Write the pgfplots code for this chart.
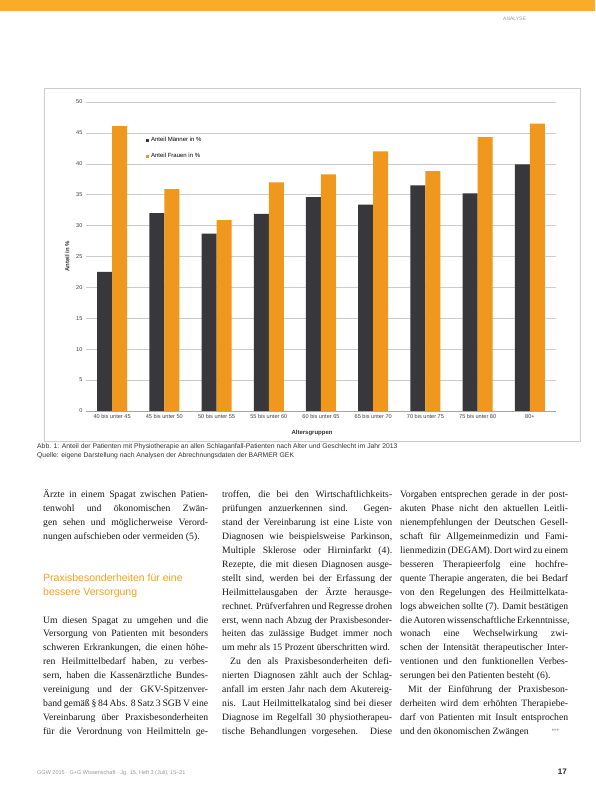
\documentclass[border=0pt]{standalone}
\usepackage{pgfplots}
\pgfplotsset{compat=1.18}
\usepackage{fontspec}
\setmainfont{Liberation Serif}
\newfontfamily\arial{Liberation Sans}
\newfontfamily\dejavu{DejaVu Sans}
\definecolor{male}{RGB}{55,55,60}
\definecolor{female}{RGB}{240,152,30}
\definecolor{band}{RGB}{250,172,40}
\definecolor{head}{RGB}{240,160,45}
\newcommand\bodyfont{\fontsize{9.7}{12}\selectfont}
% justified line: x, line index, width, text
\newcommand\jl[4]{\node[anchor=base west,inner sep=0pt,font=\bodyfont,text=black!90] at (#1,{498+13.9*#2}) {\makebox[#3pt][s]{#4}};}
\newcommand\lastl[3]{\node[anchor=base west,inner sep=0pt,font=\bodyfont,text=black!90] at (#1,{498+13.9*#2}) {#3};}
\begin{document}
\begin{tikzpicture}
\useasboundingbox (0pt,0pt) rectangle (595pt,785pt);
\fill[white] (0pt,0pt) rectangle (595pt,785pt);

\begin{axis}[
  at={(86pt,374pt)}, anchor=south west,
  scale only axis, width=470pt, height=309pt,
  ybar=0pt, bar width=15pt,
  xmin=-0.5, xmax=8.5, ymin=0, ymax=50,
  xtick={0,...,8},
  xticklabels={40 bis unter 45,45 bis unter 50,50 bis unter 55,55 bis unter 60,60 bis unter 65,65 bis unter 70,70 bis unter 75,75 bis unter 80,80+},
  ytick={0,5,...,50},
  ymajorgrids, grid style={gray!40, line width=0.5pt},
  axis x line*=bottom, axis y line*=left,
  y axis line style={draw=none}, x axis line style={gray!70},
  major tick length=0pt,
  tick label style={font=\arial\fontsize{5.6}{6}\selectfont, text=black!75},
  /pgf/number format/assume math mode=true,
  ylabel={\bfseries Anteil in \%},
  ylabel style={font=\arial\fontsize{6}{7}\selectfont, text=black!80},
  xlabel={\bfseries Altersgruppen},
  xlabel style={font=\arial\fontsize{6}{7}\selectfont, text=black!80, at={(axis description cs:0.481,-0.072)}, anchor=center},
  legend style={at={(axis description cs:0.127,0.892)}, anchor=north west, draw=none, fill=none,
     font=\arial\fontsize{6}{7}\selectfont, row sep=6pt, inner xsep=0pt, inner ysep=0pt},
  legend cell align=left,
  legend image code/.code={\fill[#1] (0pt,-1.6pt) rectangle (3.2pt,1.6pt);},
]
\addplot[fill=male, draw=none] coordinates {(0,22.5) (1,32.0) (2,28.7) (3,31.9) (4,34.6) (5,33.4) (6,36.5) (7,35.2) (8,39.9)};
\addplot[fill=female, draw=none] coordinates {(0,46.1) (1,35.9) (2,30.9) (3,37.0) (4,38.3) (5,42.0) (6,38.8) (7,44.3) (8,46.5)};
\legend{Anteil Männer in \%, Anteil Frauen in \%}
\end{axis}

\begin{scope}[x=1pt,y=-1pt,yshift=785pt]
% top band and header
\fill[band] (0,0) rectangle (595,11);
\node[anchor=base west,inner sep=0pt,font=\arial\fontsize{5}{6}\selectfont,text=gray!80] at (503,21) {ANALYSE};
% chart frame
\draw[gray!40, line width=0.5pt] (44,88) rectangle (580,441);
% caption
\node[anchor=base west,inner sep=0pt,font=\arial\fontsize{6.8}{8}\selectfont,text=black!80] at (37,449) {Abb. 1: Anteil der Patienten mit Physiotherapie an allen Schlaganfall-Patienten nach Alter und Geschlecht im Jahr 2013};
\node[anchor=base west,inner sep=0pt,font=\arial\fontsize{6.8}{8}\selectfont,text=black!80] at (37,458) {Quelle: eigene Darstellung nach Analysen der Abrechnungsdaten der BARMER GEK};

% column 1
\jl{43}{0}{165}{Ärzte in einem Spagat zwischen Patien-}
\jl{43}{1}{165}{tenwohl und ökonomischen Zwän-}
\jl{43}{2}{165}{gen sehen und möglicherweise Verord-}
\lastl{43}{3}{nungen aufschieben oder vermeiden (5).}
\node[anchor=base west,inner sep=0pt,font=\arial\fontsize{10.5}{13}\selectfont,text=head] at (43,582) {Praxisbesonderheiten für eine};
\node[anchor=base west,inner sep=0pt,font=\arial\fontsize{10.5}{13}\selectfont,text=head] at (43,596) {bessere Versorgung};
\jl{43}{9}{165}{Um diesen Spagat zu umgehen und die}
\jl{43}{10}{165}{Versorgung von Patienten mit besonders}
\jl{43}{11}{165}{schweren Erkrankungen, die einen höhe-}
\jl{43}{12}{165}{ren Heilmittelbedarf haben, zu verbes-}
\jl{43}{13}{165}{sern, haben die Kassenärztliche Bundes-}
\jl{43}{14}{165}{vereinigung und der GKV-Spitzenver-}
\jl{43}{15}{165}{band gemäß § 84 Abs. 8 Satz 3 SGB V eine}
\jl{43}{16}{165}{Vereinbarung über Praxisbesonderheiten}
\jl{43}{17}{165}{für die Verordnung von Heilmitteln ge-}

% column 2
\jl{222}{0}{170}{troffen, die bei den Wirtschaftlichkeits-}
\jl{222}{1}{170}{prüfungen anzuerkennen sind. Gegen-}
\jl{222}{2}{170}{stand der Vereinbarung ist eine Liste von}
\jl{222}{3}{170}{Diagnosen wie beispielsweise Parkinson,}
\jl{222}{4}{170}{Multiple Sklerose oder Hirninfarkt (4).}
\jl{222}{5}{170}{Rezepte, die mit diesen Diagnosen ausge-}
\jl{222}{6}{170}{stellt sind, werden bei der Erfassung der}
\jl{222}{7}{170}{Heilmittelausgaben der Ärzte herausge-}
\jl{222}{8}{170}{rechnet. Prüfverfahren und Regresse drohen}
\jl{222}{9}{170}{erst, wenn nach Abzug der Praxisbesonder-}
\jl{222}{10}{170}{heiten das zulässige Budget immer noch}
\lastl{222}{11}{um mehr als 15 Prozent überschritten wird.}
\jl{222}{12}{170}{\hspace{8pt}Zu den als Praxisbesonderheiten defi-}
\jl{222}{13}{170}{nierten Diagnosen zählt auch der Schlag-}
\jl{222}{14}{170}{anfall im ersten Jahr nach dem Akutereig-}
\jl{222}{15}{170}{nis. Laut Heilmittelkatalog sind bei dieser}
\jl{222}{16}{170}{Diagnose im Regelfall 30 physiotherapeu-}
\jl{222}{17}{170}{tische Behandlungen vorgesehen. Diese}

% column 3
\jl{400}{0}{168}{Vorgaben entsprechen gerade in der post-}
\jl{400}{1}{168}{akuten Phase nicht den aktuellen Leitli-}
\jl{400}{2}{168}{nienempfehlungen der Deutschen Gesell-}
\jl{400}{3}{168}{schaft für Allgemeinmedizin und Fami-}
\jl{400}{4}{168}{lienmedizin (DEGAM). Dort wird zu einem}
\jl{400}{5}{168}{besseren Therapieerfolg eine hochfre-}
\jl{400}{6}{168}{quente Therapie angeraten, die bei Bedarf}
\jl{400}{7}{168}{von den Regelungen des Heilmittelkata-}
\jl{400}{8}{168}{logs abweichen sollte (7). Damit bestätigen}
\jl{400}{9}{168}{die Autoren wissenschaftliche Erkenntnisse,}
\jl{400}{10}{168}{wonach eine Wechselwirkung zwi-}
\jl{400}{11}{168}{schen der Intensität therapeutischer Inter-}
\jl{400}{12}{168}{ventionen und den funktionellen Verbes-}
\lastl{400}{13}{serungen bei den Patienten besteht (6).}
\jl{400}{14}{168}{\hspace{8pt}Mit der Einführung der Praxisbeson-}
\jl{400}{15}{168}{derheiten wird dem erhöhten Therapiebe-}
\jl{400}{16}{168}{darf von Patienten mit Insult entsprochen}
\lastl{400}{17}{und den ökonomischen Zwängen}
\node[anchor=base west,inner sep=0pt,font=\dejavu\fontsize{5}{6}\selectfont,text=gray!60] at (552,732) {▸▸▸};

% footer
\node[anchor=base west,inner sep=0pt,font=\arial\fontsize{5.5}{6}\selectfont,text=gray!80] at (37,775) {GGW 2015 · G+G Wissenschaft · Jg. 15, Heft 3 (Juli), 15–21};
\node[anchor=base east,inner sep=0pt,font=\arial\bfseries\fontsize{8}{9}\selectfont,text=black!85] at (567,775) {17};
\end{scope}
\end{tikzpicture}
\end{document}
